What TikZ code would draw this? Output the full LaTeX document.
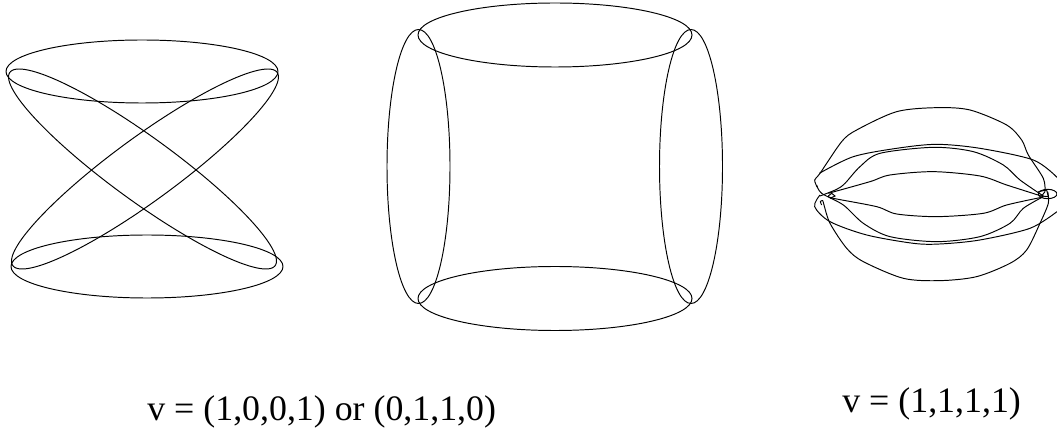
\documentclass[tikz,border=0pt]{standalone}
\usepackage{fontspec}
\setmainfont{Liberation Serif}
\usepackage{tikz}

\begin{document}
\begin{tikzpicture}[x=0.02cm, y=-0.02cm,
    orbit/.style={line width=0.55pt, black},
    caption/.style={font=\fontsize{20.4}{24}\selectfont, inner sep=0pt, anchor=base west}]
    \useasboundingbox (0,0) rectangle (1057,428);

    % left figure
    \draw[orbit] (142,71.5) ellipse (136 and 31.5);
    \draw[orbit] (147,266.5) ellipse (136 and 31.5);
    \draw[orbit, domain=0:360, samples=120, smooth] plot ({142.5+134*cos(\x)}, {169+100*cos(\x-23)});
    \draw[orbit, domain=0:360, samples=120, smooth] plot ({145-133.5*cos(\x)}, {169+100*cos(\x-23)});

    % middle figure
    \draw[orbit] (555,35) ellipse (137 and 32);
    \draw[orbit] (555,298.5) ellipse (137 and 32);
    \draw[orbit] (418.5,166.5) ellipse (31.5 and 137);
    \draw[orbit] (691,166.5) ellipse (31.5 and 137);

    % right figure
    \begin{scope}[shift={(780,90)}, scale=0.3333]
        \draw[orbit] plot[smooth, tension=0.5] coordinates {(125,345) (121,335) (128,332) (132,345) (150,400) (200,475) (250,515) (370,565) (480,572) (590,560) (690,520) (740,480) (780,400) (805,340) (803,305)};
        \draw[orbit] plot[smooth, tension=0.5] coordinates {(112,292) (104,270) (120,250) (185,155) (230,120) (350,65) (470,53) (570,60) (680,105) (725,150) (745,195) (790,265) (795,305)};
        \draw[orbit] plot[smooth, tension=0.5] coordinates {(120,315) (104,350) (150,395) (260,435) (400,460) (480,462) (600,450) (750,415) (831,365)};
        \draw[orbit] plot[smooth, tension=0.5] coordinates {(118,250) (220,200) (350,175) (470,163) (600,175) (760,210) (831,262)};
        \draw[orbit] plot[smooth, tension=0.5] coordinates {(110,285) (125,310) (190,345) (250,400) (330,440) (470,455) (600,440) (690,400) (730,355) (790,320)};
        \draw[orbit] plot[smooth, tension=0.5] coordinates {(120,318) (170,298) (195,280) (240,230) (300,190) (460,172) (580,185) (670,225) (720,270) (790,318)};
        \draw[orbit] plot[smooth, tension=0.5] coordinates {(145,310) (270,275) (330,255) (460,245) (600,258) (680,285) (790,320)};
        \draw[orbit] plot[smooth, tension=0.5] coordinates {(145,318) (160,325) (290,350) (350,372) (470,380) (610,370) (680,345) (785,322)};
        \draw[orbit] (145,318) -- (155,310) -- (165,318) -- (150,325);
        \draw[orbit] (803,312) ellipse (28 and 14);
        \draw[orbit] (775,305) -- (800,300) -- (805,320) -- (785,318) -- (795,305);
    \end{scope}

    % captions
    \node[caption] (labelA) at (147,420) {v = (1,0,0,1) or (0,1,1,0)};
    \node[caption] (labelB) at (842,412) {v = (1,1,1,1)};
\end{tikzpicture}
\end{document}
